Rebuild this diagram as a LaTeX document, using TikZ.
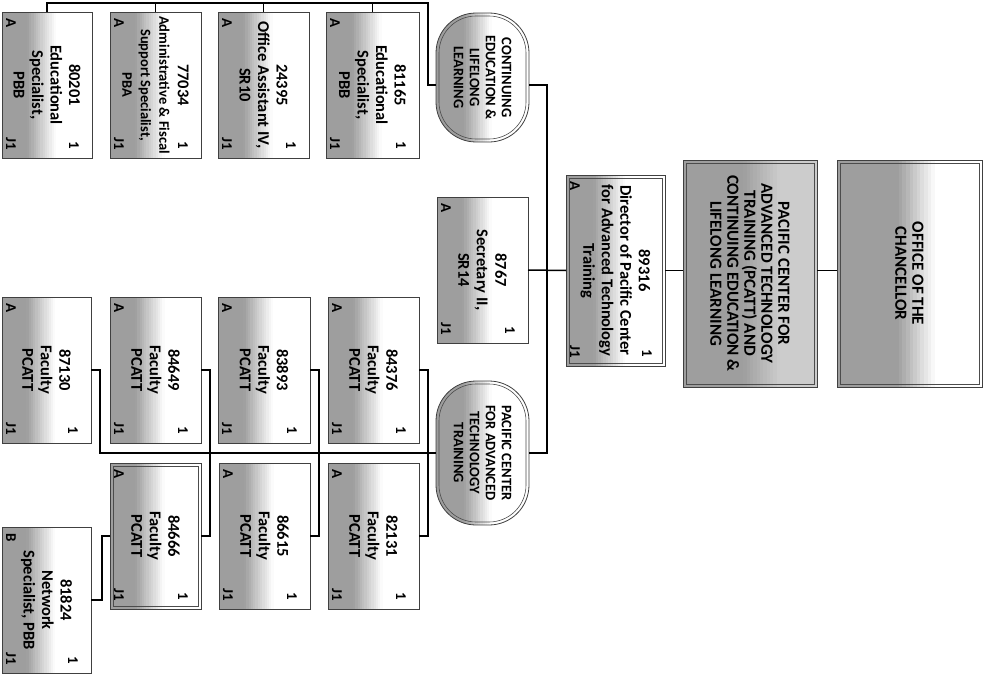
\documentclass[tikz,border=0pt]{standalone}
\usepackage{fontspec}
\setmainfont{Carlito}
\usetikzlibrary{calc,fit}
% gradient made of strips: x1 y1 x2 y2 a b low  (grey up to fraction a, fading to 'low' at fraction b)
\newcommand{\grad}[7]{%
  \foreach \gi in {0,...,39}{%
    \pgfmathsetmacro\gradT{(\gi+0.5)/40}%
    \pgfmathsetmacro\gradV{\gradT<#5 ? 38 : (\gradT>#6 ? #7 : 38-(38-#7)*(\gradT-#5)/(#6-#5))}%
    \fill[black!\gradV] ({#1+(#3-#1)*\gi/40},#2) rectangle ({#1+(#3-#1)*(\gi+1)/40+0.7},#4);}}
\newcommand{\gbox}[5]{\begin{scope}\clip (#1,#2) rectangle (#3,#4); \grad{#1}{#2}{#3}{#4}#5\end{scope}}
\newcommand{\posn}[8]{%
  \gbox{#2}{#3}{#4}{#5}{{0.28}{0.6}{0}}
  \node[box,fit={(#2,#3) (#4,#5)}] (#1) {};
  \node[txt,#6] at (#1.center) {#7};
  \node[crn] at ($(#1.south east)+(-18,-13)$) {1};
  \node[crn] at ($(#1.north west)+(9,11)$) {#8};
  \node[crn] at ($(#1.south west)+(9,-14)$) {J1};
}
\newcommand{\dbl}[1]{\draw[innerl] ($(#1.north west)+(3,3)$) rectangle ($(#1.south east)+(-3,-3)$);}
\newcommand{\smf}{\fontsize{14.5}{18.5}\selectfont}
\begin{document}
\begin{tikzpicture}[x=1pt,y=-1pt,
  box/.style={draw=black!75, line width=0.8pt, inner sep=0pt, outer sep=0pt},
  oval/.style={box, rounded corners=40pt},
  txt/.style={rotate=-90, align=center, font=\bfseries\fontsize{16.5}{18.5}\selectfont, inner sep=0pt},
  capt/.style={rotate=-90, align=center, font=\bfseries\fontsize{14.5}{16}\selectfont, inner sep=0pt},
  bigt/.style={rotate=-90, align=center, font=\bfseries\fontsize{17}{17}\selectfont, inner sep=0pt},
  crn/.style={rotate=-90, font=\bfseries\fontsize{15}{15}\selectfont, inner sep=0pt},
  conn/.style={draw=black, line width=1.5pt},
  innerl/.style={draw=black!70, line width=0.6pt}
]
\useasboundingbox (0,0) rectangle (987,677);
\fill[white] (0,0) rectangle (987,677);

% top level
\gbox{837}{160}{982}{387}{{0.42}{0.68}{0}}
\node[box, fit={(837,160) (982,387)}] (chan) {};
\dbl{chan}
\node[bigt] at (chan.center) {OFFICE OF THE\\CHANCELLOR};
\gbox{683}{160}{817}{387}{{0.45}{0.72}{20}}
\node[box, fit={(683,160) (817,387)}] (pcatt) {};
\dbl{pcatt}
\node[bigt] at (pcatt.center) {PACIFIC CENTER FOR\\ADVANCED TECHNOLOGY\\TRAINING (PCATT) AND\\CONTINUING EDUCATION \&\\LIFELONG LEARNING};

\posn{dir}{566}{175}{665}{366}{}{89316\\Director of Pacific Center\\for Advanced Technology\\Training}{A}
\dbl{dir}
\posn{sec}{437}{197}{528}{343}{}{8767\\Secretary II,\\SR14}{A}

% ovals
\begin{scope}\clip[rounded corners=40pt] (436,13) rectangle (529,142); \grad{436}{13}{529}{142}{0.3}{0.6}{0}\end{scope}
\node[oval, fit={(436,13) (529,142)}] (ce) {};
\draw[innerl, rounded corners=37pt] ($(ce.north west)+(3,3)$) rectangle ($(ce.south east)+(-3,-3)$);
\node[capt] at (ce.center) {CONTINUING\\EDUCATION \&\\LIFELONG\\LEARNING};
\begin{scope}\clip[rounded corners=40pt] (436,381) rectangle (529,525); \grad{436}{381}{529}{525}{0.3}{0.6}{0}\end{scope}
\node[oval, fit={(436,381) (529,525)}] (pcat) {};
\draw[innerl, rounded corners=37pt] ($(pcat.north west)+(3,3)$) rectangle ($(pcat.south east)+(-3,-3)$);
\node[capt] at (pcat.center) {PACIFIC CENTER\\FOR ADVANCED\\TECHNOLOGY\\TRAINING};

% row 1
\posn{b80201}{2}{12}{92}{158}{}{80201\\Educational\\Specialist,\\PBB}{A}
\posn{b77034}{110}{12}{201}{158}{}{77034\\{\smf Administrative \& Fiscal}\\{\smf Support Specialist,}\\{\smf PBA}}{A}
\posn{b24395}{218}{12}{309}{158}{}{24395\\Office Assistant IV,\\SR10}{A}
\posn{b81165}{326}{12}{419}{158}{}{81165\\Educational\\Specialist,\\PBB}{A}

% row 2
\posn{b87130}{2}{297}{91}{443}{}{87130\\Faculty\\PCATT}{A}
\posn{b84649}{110}{297}{201}{443}{}{84649\\Faculty\\PCATT}{A}
\posn{b83893}{218}{297}{310}{443}{}{83893\\Faculty\\PCATT}{A}
\posn{b84376}{328}{297}{419}{443}{}{84376\\Faculty\\PCATT}{A}
% row 3
\posn{b84666}{110}{463}{201}{609}{}{84666\\Faculty\\PCATT}{A}
\dbl{b84666}
\posn{b86615}{219}{463}{310}{609}{}{86615\\Faculty\\PCATT}{A}
\posn{b82131}{328}{463}{419}{609}{}{82131\\Faculty\\PCATT}{A}
% row 4
\posn{b81824}{2}{527}{91}{673}{}{81824\\Network\\Specialist, PBB}{B}

% connectors
\coordinate (tb) at (428,3);
\coordinate (spine) at (547,270);
\coordinate (lb) at (100,453);
\draw[conn] (b80201.north) |- (tb) |- ([yshift=-7.5pt]ce.west);
\draw[conn] (b77034.north) -- (b77034.north|-tb);
\draw[conn] (b24395.north) -- (b24395.north|-tb);
\draw[conn] (b81165.north) -- (b81165.north|-tb);
\draw[conn] ([yshift=-7.5pt]ce.east) -| (spine) |- (pcat.east);
\draw[conn] (sec.east) -- (dir.west);
\draw[conn] (dir.east) -- (dir.east -| pcatt.west);
\draw[conn] (dir.east -| pcatt.east) -- (dir.east -| chan.west);
\draw[conn] (b87130.east) -| (lb) -- (pcat.west);
\draw[conn] (b84649.east) -- ++(9,0) |- (b84666.east);
\draw[conn] (b83893.east) -- ++(9,0) |- (b86615.east);
\draw[conn] (b84376.east) -- ++(9,0) |- (b82131.east);
\draw[conn] (b84666.west) -- ++(-8,0) |- (b81824.east);
\end{tikzpicture}
\end{document}
